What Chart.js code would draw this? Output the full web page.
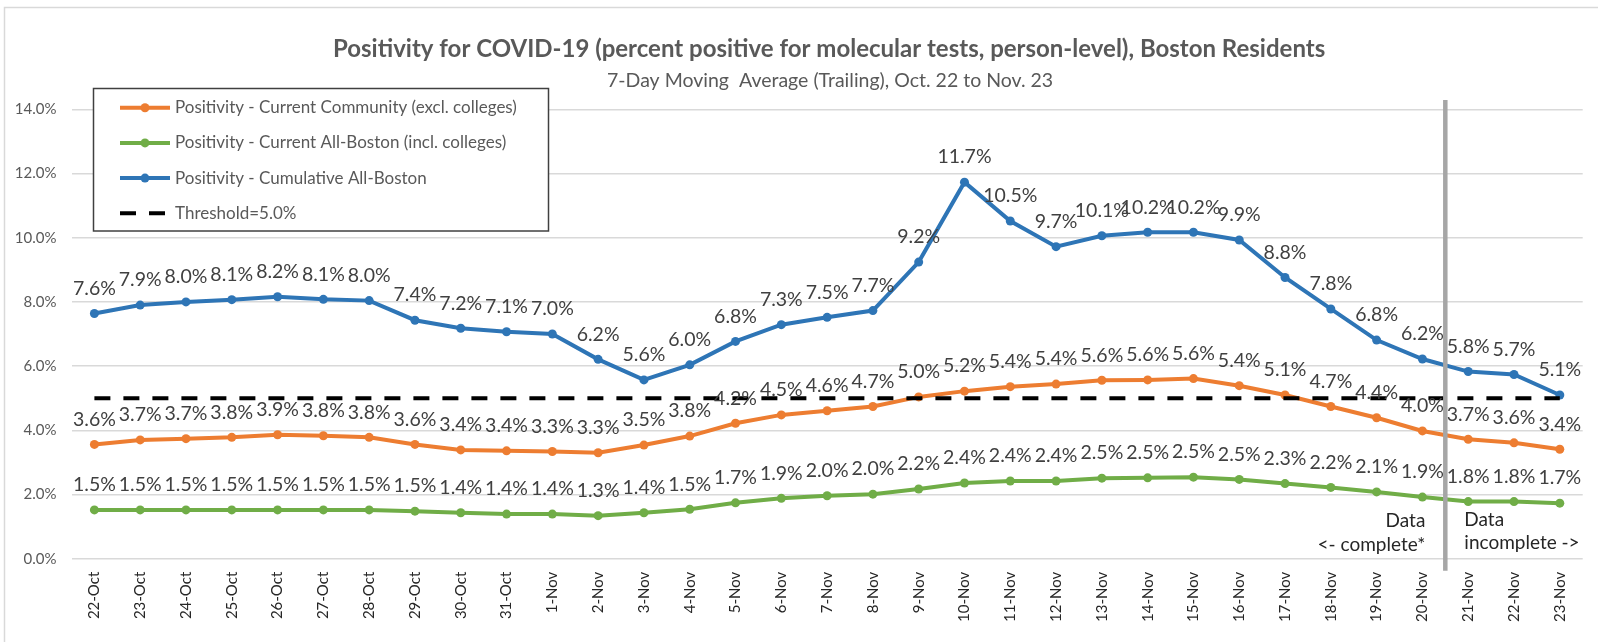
<!DOCTYPE html>
<html lang="en">
  <head>
    <meta charset="UTF-8" />
    <title>Positivity for COVID-19, Boston Residents</title>
    <script src="https://cdn.jsdelivr.net/npm/chart.js"></script>
    <style>
      body { margin: 0; background: #fff; }
      #chart-box { width: 1598px; height: 642px; }
    </style>
  </head>
  <body>
    <div id="chart-box">
      <canvas id="positivity-chart" width="1598" height="642"></canvas>
    </div>

    <script>
      // dates on the x axis
      const dates = [
        "22-Oct", "23-Oct", "24-Oct", "25-Oct", "26-Oct", "27-Oct", "28-Oct",
        "29-Oct", "30-Oct", "31-Oct", "1-Nov", "2-Nov", "3-Nov", "4-Nov",
        "5-Nov", "6-Nov", "7-Nov", "8-Nov", "9-Nov", "10-Nov", "11-Nov",
        "12-Nov", "13-Nov", "14-Nov", "15-Nov", "16-Nov", "17-Nov", "18-Nov",
        "19-Nov", "20-Nov", "21-Nov", "22-Nov", "23-Nov",
      ];

      // percent positive, 7-day trailing average
      const currentCommunity = [
        3.56, 3.70, 3.74, 3.78, 3.86, 3.83, 3.78, 3.56, 3.39, 3.36, 3.34,
        3.30, 3.54, 3.82, 4.22, 4.48, 4.61, 4.74, 5.04, 5.22, 5.36, 5.44,
        5.56, 5.57, 5.61, 5.39, 5.10, 4.74, 4.39, 3.98, 3.72, 3.61, 3.41,
      ];
      const currentAllBoston = [
        1.52, 1.52, 1.52, 1.52, 1.52, 1.52, 1.52, 1.48, 1.43, 1.39, 1.39,
        1.34, 1.43, 1.54, 1.74, 1.88, 1.96, 2.01, 2.17, 2.36, 2.42, 2.42,
        2.51, 2.52, 2.54, 2.47, 2.34, 2.22, 2.08, 1.92, 1.78, 1.78, 1.73,
      ];
      const cumulativeAllBoston = [
        7.64, 7.90, 8.00, 8.07, 8.16, 8.08, 8.04, 7.43, 7.18, 7.07, 7.00,
        6.21, 5.57, 6.04, 6.77, 7.29, 7.52, 7.73, 9.24, 11.73, 10.52, 9.72,
        10.06, 10.17, 10.17, 9.93, 8.76, 7.78, 6.81, 6.22, 5.83, 5.74, 5.10,
      ];
      const threshold = [
        5.0, 5.0, 5.0, 5.0, 5.0, 5.0, 5.0, 5.0, 5.0, 5.0, 5.0,
        5.0, 5.0, 5.0, 5.0, 5.0, 5.0, 5.0, 5.0, 5.0, 5.0, 5.0,
        5.0, 5.0, 5.0, 5.0, 5.0, 5.0, 5.0, 5.0, 5.0, 5.0, 5.0,
      ];

      const yTicks = [0, 2, 4, 6, 8, 10, 12, 14];
      const lastCompleteDate = "20-Nov";

      const FONT = "Lato, 'Open Sans', sans-serif";

      // title, frame, split line and notes
      const decorPlugin = {
        id: "decor",
        beforeDraw(chart) {
          const ctx = chart.ctx;
          ctx.save();
          ctx.strokeStyle = "#d9d9d9";
          ctx.lineWidth = 1.5;
          ctx.strokeRect(4.5, 7.5, 1700, 700);
          ctx.restore();
        },
        afterDraw(chart) {
          const ctx = chart.ctx;
          const area = chart.chartArea;
          const x = chart.scales.x;
          const mid = (area.left + area.right) / 2;
          ctx.save();
          ctx.textAlign = "center";
          ctx.textBaseline = "middle";
          ctx.fillStyle = "#595959";
          ctx.font = "bold 24px " + FONT;
          ctx.fillText(
            "Positivity for COVID-19 (percent positive for molecular tests, person-level), Boston Residents",
            mid + 2, 49
          );
          ctx.font = "19.5px " + FONT;
          ctx.fillText("7-Day Moving  Average (Trailing), Oct. 22 to Nov. 23", mid + 3, 81);

          // split between complete and incomplete data
          const i = dates.indexOf(lastCompleteDate);
          const vx = (x.getPixelForValue(i) + x.getPixelForValue(i + 1)) / 2;
          ctx.strokeStyle = "#a6a6a6";
          ctx.lineWidth = 4.5;
          ctx.beginPath();
          ctx.moveTo(vx, 100);
          ctx.lineTo(vx, area.bottom + 12);
          ctx.stroke();

          ctx.fillStyle = "#262626";
          ctx.font = "19px " + FONT;
          ctx.textAlign = "right";
          ctx.fillText("Data", vx - 20, area.bottom - 38);
          ctx.fillText("<- complete*", vx - 20, area.bottom - 14);
          ctx.textAlign = "left";
          ctx.fillText("Data", vx + 19, area.bottom - 39);
          ctx.fillText("incomplete ->", vx + 19, area.bottom - 16);
          ctx.restore();
        },
      };

      // value labels above each point
      const valueLabels = {
        id: "valueLabels",
        afterDatasetsDraw(chart) {
          const ctx = chart.ctx;
          ctx.save();
          ctx.font = "19.5px " + FONT;
          ctx.fillStyle = "#404040";
          ctx.textAlign = "center";
          ctx.textBaseline = "middle";
          chart.data.datasets.forEach((ds, di) => {
            if (ds.noLabels) return;
            chart.getDatasetMeta(di).data.forEach((pt, j) => {
              ctx.fillText(ds.data[j].toFixed(1) + "%", pt.x, pt.y - 25);
            });
          });
          ctx.restore();
        },
      };

      // boxed legend sitting inside the plot
      const boxLegend = {
        id: "boxLegend",
        afterDraw(chart) {
          const ctx = chart.ctx;
          const bx = 93.5, by = 88.5, bw = 455, bh = 142.5;
          ctx.save();
          ctx.fillStyle = "#fff";
          ctx.fillRect(bx, by, bw, bh);
          ctx.strokeStyle = "#404040";
          ctx.lineWidth = 1.5;
          ctx.strokeRect(bx, by, bw, bh);
          ctx.font = "17px " + FONT;
          ctx.textBaseline = "middle";
          chart.data.datasets.forEach((ds, i) => {
            const y = 107.7 + i * 35.2;
            ctx.strokeStyle = ds.borderColor;
            ctx.lineWidth = ds.borderWidth;
            ctx.setLineDash(ds.borderDash || []);
            ctx.beginPath();
            ctx.moveTo(120, y);
            ctx.lineTo(170, y);
            ctx.stroke();
            ctx.setLineDash([]);
            if (ds.pointRadius) {
              ctx.fillStyle = ds.borderColor;
              ctx.beginPath();
              ctx.arc(145, y, 4.5, 0, Math.PI * 2);
              ctx.fill();
            }
            ctx.fillStyle = "#595959";
            ctx.fillText(ds.label, 175, y);
          });
          ctx.restore();
        },
      };

      const seriesStyle = (color) => ({
        borderColor: color,
        backgroundColor: color,
        borderWidth: 4,
        pointRadius: 4.5,
        pointBorderWidth: 0,
        pointBackgroundColor: color,
        tension: 0,
      });

      const ctx = document.getElementById("positivity-chart").getContext("2d");
      new Chart(ctx, {
        type: "line",
        data: {
          labels: dates,
          datasets: [
            {
              label: "Positivity - Current Community (excl. colleges)",
              data: currentCommunity,
              order: 2,
              ...seriesStyle("#ed7d31"),
            },
            {
              label: "Positivity - Current All-Boston (incl. colleges)",
              data: currentAllBoston,
              order: 3,
              ...seriesStyle("#70ad47"),
            },
            {
              label: "Positivity - Cumulative All-Boston",
              data: cumulativeAllBoston,
              order: 1,
              ...seriesStyle("#2e75b6"),
            },
            {
              label: "Threshold=5.0%",
              data: threshold,
              order: 0,
              borderColor: "#000000",
              borderWidth: 4,
              borderDash: [16, 13],
              pointRadius: 0,
              noLabels: true,
            },
          ],
        },
        options: {
          responsive: false,
          animation: false,
          layout: { padding: { top: 109.3, left: 0, right: 15.3, bottom: 0 } },
          plugins: {
            legend: { display: false },
            tooltip: { enabled: false },
          },
          scales: {
            x: {
              offset: true,
              grid: { display: false, drawTicks: false },
              border: { display: false },
              ticks: {
                autoSkip: false,
                minRotation: 90,
                maxRotation: 90,
                padding: 13,
                color: "#262626",
                font: { family: FONT, size: 15 },
              },
              afterFit(scale) { scale.height = 83.3; },
            },
            y: {
              min: 0,
              max: 14,
              afterBuildTicks(scale) {
                scale.ticks = yTicks.map((v) => ({ value: v }));
              },
              grid: { color: "#d9d9d9", lineWidth: 1.5, drawTicks: false },
              border: { display: false },
              ticks: {
                padding: 15,
                color: "#595959",
                font: { family: FONT, size: 15 },
                callback: (v) => v.toFixed(1) + "%",
              },
              afterFit(scale) { scale.width = 71.5; },
            },
          },
        },
        plugins: [decorPlugin, valueLabels, boxLegend],
      });
    </script>
  </body>
</html>
